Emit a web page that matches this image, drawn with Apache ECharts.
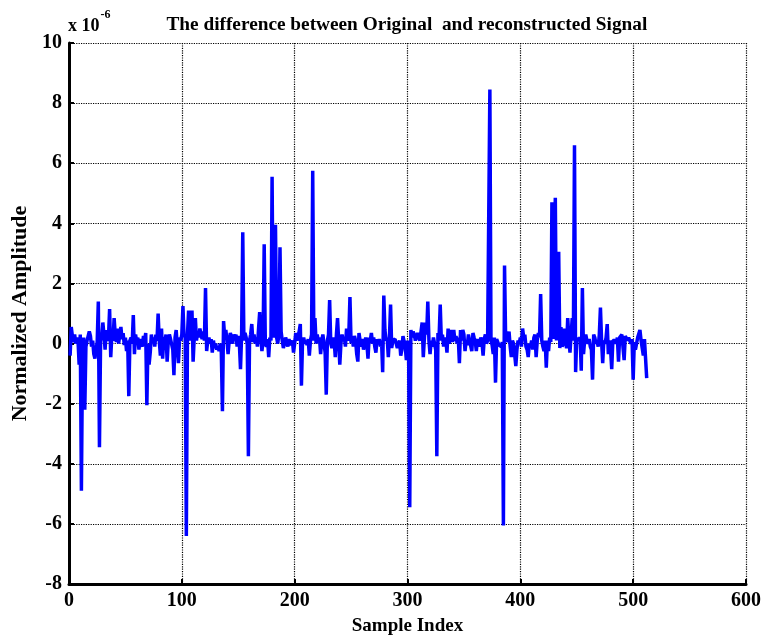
<!DOCTYPE html>
<html>
<head>
<meta charset="utf-8">
<script src="https://cdn.jsdelivr.net/npm/echarts@6/dist/echarts.min.js"></script>
<style>
  html, body { margin: 0; padding: 0; background: #fff; overflow: hidden; }
  #chart { width: 100vw; height: 100vh; }
</style>
</head>
<body>
<div id="chart"></div>
<script>
// Reconstruction error per sample (units of 1e-6), samples 1..512
const errorValues = [
  -0.4, 0.55, 0.25, 0.05, 0.3, 0.0, 0.2, 0.1, -0.7, 0.3,
  -4.9, -0.3, 0.2, -2.2, -0.1, 0.1, 0.05, 0.4, 0.25, -0.1,
  0.1, -0.35, -0.5, -0.2, 0.05, 1.4, -3.45, 0.1, 0.2, 0.7,
  0.3, -0.2, 0.45, 0.1, 0.2, 1.15, -0.45, 0.3, 0.1, 0.85,
  0.3, 0.05, 0.5, 0.0, 0.3, 0.55, 0.15, 0.35, -0.05, 0.2,
  -0.25, 0.1, -1.75, 0.1, 0.2, 0.0, 0.95, -0.35, 0.3, 0.05,
  0.2, -0.2, 0.15, 0.0, -0.1, 0.25, 0.1, 0.35, -2.05, 0.0,
  -0.7, -0.3, 0.3, 0.05, 0.2, -0.1, 0.3, 0.1, 1.0, 0.1,
  -0.4, 0.5, -0.5, 0.2, 0.1, 0.3, -0.6, 0.1, 0.3, 0.15,
  0.1, -0.2, -1.05, 0.2, 0.45, -0.1, -0.65, 0.2, 0.1, 0.3,
  1.25, 0.2, 0.3, -6.4, 0.3, 1.1, 0.4, 0.1, 1.1, -0.6,
  0.2, 0.85, 0.1, 0.4, 0.2, 0.5, 0.3, 0.15, 0.4, 0.1,
  1.85, -0.25, 0.1, 0.2, 0.0, 0.15, -0.3, 0.1, -0.15, 0.0,
  -0.2, -0.1, -0.25, 0.0, -0.3, -2.25, 0.75, 0.2, 0.45, 0.1,
  -0.35, 0.1, 0.35, 0.2, 0.0, 0.3, 0.15, 0.3, -0.1, 0.25,
  0.0, -0.85, 0.3, 3.7, 0.1, 0.35, 0.2, 0.0, -3.75, 0.1,
  0.3, 0.65, 0.05, 0.3, 0.0, 0.2, -0.1, 0.5, 1.05, 0.2,
  -0.25, 0.1, 3.3, 0.0, -0.1, 0.15, -0.45, 0.2, 0.1, 5.55,
  0.2, 0.5, 3.95, 0.2, 0.0, 0.3, 3.2, 0.4, 0.1, -0.15,
  0.0, 0.2, 0.05, -0.1, 0.15, -0.05, 0.0, 0.1, -0.3, 0.0,
  0.35, 0.1, 0.25, 0.4, 0.65, -1.4, 0.1, 0.2, 0.0, 0.1,
  -0.05, 0.15, -0.4, 0.1, 0.3, 5.75, 0.1, 0.85, 0.0, 0.3,
  0.05, 0.2, -0.35, 0.1, 0.3, 0.0, -0.3, -1.7, 0.1, 0.3,
  1.45, 0.0, -0.15, 0.2, 0.1, -0.45, 0.3, 0.85, 0.1, -0.7,
  0.0, 0.3, 0.1, 0.2, -0.1, 0.5, 0.1, 0.3, 1.55, 0.0,
  0.2, -0.1, 0.25, 0.1, -0.35, -0.6, 0.35, 0.1, -0.1, 0.15,
  -0.2, 0.0, 0.2, 0.0, -0.5, 0.2, 0.1, 0.35, 0.0, 0.2,
  -0.1, -0.3, 0.15, 0.0, 0.15, -0.1, 0.1, -0.95, 1.6, 0.45,
  0.1, 0.2, -0.45, 0.2, 1.3, -0.15, 0.1, 0.05, 0.15, 0.0,
  -0.15, -0.1, 0.1, -0.4, -0.2, 0.25, 0.25, -0.1, -0.55, 0.1,
  -0.3, -5.45, 0.45, 0.2, 0.4, 0.3, 0.1, 0.15, 0.35, 0.2,
  0.1, 0.4, 0.7, -0.45, 0.2, 0.7, 0.3, 1.4, 0.1, -0.35,
  0.1, -0.1, 0.2, 0.0, -0.2, -3.75, 0.35, 0.2, 1.3, 0.1,
  0.3, -0.1, 0.2, 0.1, -0.3, 0.5, 0.0, 0.2, 0.45, 0.05,
  0.45, 0.1, 0.25, 0.0, 0.2, -0.65, 0.45, 0.1, 0.45, 0.3,
  -0.25, 0.1, -0.05, 0.3, 0.1, 0.05, -0.25, 0.35, 0.2, 0.1,
  -0.25, 0.15, 0.1, -0.1, 0.2, 0.05, -0.4, 0.15, 0.3, 0.0,
  0.1, 0.05, 8.45, 0.1, -0.05, -0.35, 0.2, -1.3, 0.15, 0.1,
  -0.05, 0.0, -0.1, 0.05, -6.05, 2.6, 0.1, 0.25, 0.05, 0.4,
  -0.1, -0.45, 0.1, 0.0, 0.05, -0.75, -0.2, 0.1, 0.0, 0.2,
  -0.1, 0.5, 0.2, 0.3, -0.1, -0.2, -0.45, 0.0, -0.1, 0.1,
  -0.2, 0.2, 0.3, -0.45, 0.1, 0.35, 0.2, 1.65, 0.1, -0.1,
  -0.25, 0.1, -0.8, 0.1, -0.25, 0.2, 0.05, 4.7, 0.15, 0.2,
  4.85, 0.1, 0.05, 3.05, -0.15, 0.55, -0.1, 0.0, 0.5, 0.05,
  -0.15, 0.85, 0.2, -0.3, 0.3, 0.85, 0.1, 6.6, -0.95, 0.2,
  0.1, 0.15, 0.2, -0.9, 1.85, -0.35, 0.1, 0.3, 0.1, 0.0,
  0.15, -0.1, -0.2, -1.2, 0.3, 0.2, 0.0, 0.1, -0.1, 0.3,
  1.2, 0.1, -0.65, 0.1, 0.0, 0.2, 0.65, -0.35, 0.1, -0.2,
  -0.85, 0.1, 0.15, 0.1, 0.0, 0.2, -0.6, 0.2, 0.15, 0.3,
  0.25, -0.55, 0.25, 0.3, 0.1, 0.2, 0.1, 0.0, 0.15, -1.2,
  0.05, -0.2, 0.0, 0.2, 0.15, 0.45, 0.1, -0.15, -0.4, 0.15,
  0.15, -1.15
];

// Axis ranges and tick spacing
const xRange = [0, 600];
const xStep = 100;
const yRange = [-8, 10];
const yStep = 2;

const titleText = 'The difference between Original  and reconstructed Signal';
const xAxisTitle = 'Sample Index';
const yAxisTitle = 'Normalized Amplitude';

const serif = '"Liberation Serif", "Times New Roman", serif';

const points = errorValues.map((v, i) => [i + 1, v]);

const chart = echarts.init(document.getElementById('chart'), null, { renderer: 'canvas' });

const axisCommon = {
  axisLine: { show: true, onZero: false, lineStyle: { color: '#000', width: 3 } },
  axisTick: { show: true, inside: true, length: 5, lineStyle: { color: '#000', width: 2 } },
  axisLabel: { color: '#000', fontFamily: serif, fontWeight: 'bold', fontSize: 20 },
  splitLine: { show: true, lineStyle: { color: '#000', type: 'dotted', width: 1.2 } },
  nameTextStyle: { color: '#000', fontFamily: serif, fontWeight: 'bold', fontSize: 19 }
};

// layout expressed as fractions of the page so it follows the viewport
chart.setOption({
  animation: false,
  backgroundColor: '#fff',
  title: {
    text: titleText,
    left: '52.6%',
    top: '1.6%',
    textAlign: 'center',
    textStyle: { color: '#000', fontFamily: serif, fontWeight: 'bold', fontSize: 19.3 }
  },
  grid: { left: '9.03%', top: '6.71%', right: '1.96%', bottom: '7.4%', containLabel: false },
  xAxis: Object.assign({}, axisCommon, {
    type: 'value',
    min: xRange[0],
    max: xRange[1],
    interval: xStep,
    name: xAxisTitle,
    nameLocation: 'middle',
    nameGap: 33,
    axisLabel: Object.assign({}, axisCommon.axisLabel, { margin: 7 })
  }),
  yAxis: Object.assign({}, axisCommon, {
    type: 'value',
    min: yRange[0],
    max: yRange[1],
    interval: yStep,
    name: yAxisTitle,
    nameLocation: 'middle',
    nameGap: 38,
    nameTextStyle: Object.assign({}, axisCommon.nameTextStyle, { fontSize: 22 }),
    axisLabel: Object.assign({}, axisCommon.axisLabel, { margin: 7 })
  }),
  graphic: [{
    type: 'text',
    left: '8.9%',
    top: '1.4%',
    style: {
      text: '{b|x 10}{s|-6}',
      rich: {
        b: { fontFamily: serif, fontWeight: 'bold', fontSize: 18, fill: '#000', padding: [8, 0, 0, 0] },
        s: { fontFamily: serif, fontWeight: 'bold', fontSize: 12, fill: '#000', verticalAlign: 'top', padding: [0, 0, 10, 1] }
      }
    }
  }],
  series: [{
    type: 'line',
    data: points,
    showSymbol: false,
    symbol: 'none',
    lineStyle: { color: '#0000ff', width: 3.5 },
    itemStyle: { color: '#0000ff' },
    z: 3
  }]
});
window.addEventListener('resize', () => chart.resize());
</script>
</body>
</html>
